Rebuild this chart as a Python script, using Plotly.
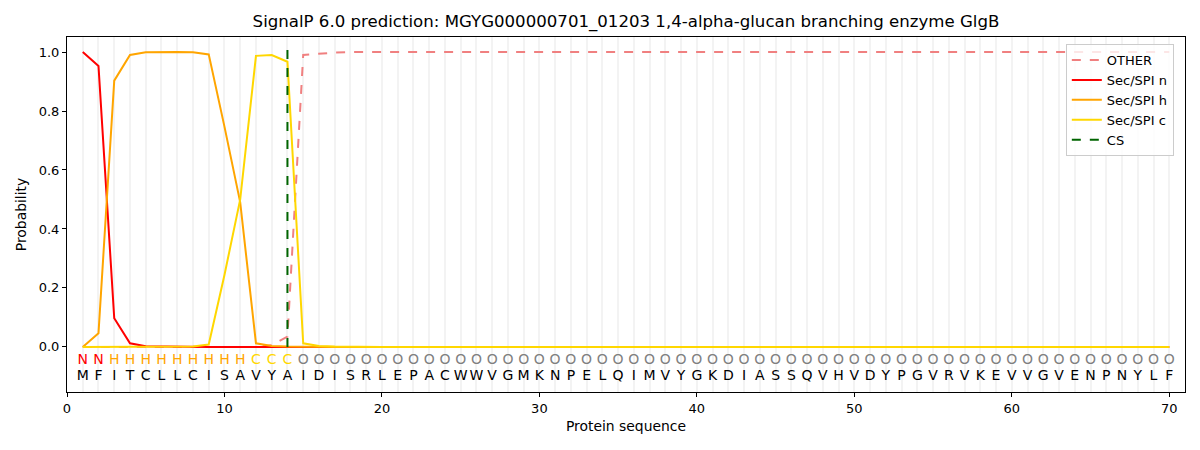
import plotly.graph_objects as go

SEQUENCE = list("MFITCLLCISAVYAIDISRLEPACWWVGMKNPELQIMVYGKDIASSQVHVDYPGVRVKEVVGVENPNYLF")
LABELS = list("NN" + "H" * 9 + "CCC" + "O" * 56)
POSITIONS = list(range(1, 71))

OTHER = [0.0, 0.0, 0.0, 0.0, 0.0, 0.0, 0.0, 0.0, 0.0, 0.0,
         0.0, 0.0, 0.006, 0.035, 0.99, 0.995, 0.998] + [1.0] * 53
SEC_N = [1.0, 0.953, 0.097, 0.012, 0.002, 0.001, 0.001, 0.0, 0.0, 0.0,
         0.0, 0.0, 0.0, 0.0, 0.0, 0.0, 0.0] + [0.0] * 53
SEC_H = [0.0, 0.046, 0.903, 0.99, 0.999, 1.0, 1.0, 0.999, 0.992, 0.747,
         0.49, 0.012, 0.003, 0.001, 0.0, 0.0, 0.0] + [0.0] * 53
SEC_C = [0.0, 0.0, 0.0, 0.0, 0.0, 0.0, 0.0, 0.001, 0.008, 0.244,
         0.5, 0.987, 0.99, 0.967, 0.012, 0.003, 0.001] + [0.0] * 53

CS_X = [14, 14]
CS_Y = [0.0, 1.035]

LABEL_COLORS = {"N": "red", "H": "orange", "C": "gold", "O": "gray"}

fig = go.Figure()

fig.add_trace(go.Scatter(x=POSITIONS, y=OTHER, mode="lines", name="OTHER",
                         line=dict(color="#F08080", width=2, dash="dash")))
fig.add_trace(go.Scatter(x=POSITIONS, y=SEC_N, mode="lines", name="Sec/SPI n",
                         line=dict(color="red", width=2)))
fig.add_trace(go.Scatter(x=POSITIONS, y=SEC_H, mode="lines", name="Sec/SPI h",
                         line=dict(color="orange", width=2)))
fig.add_trace(go.Scatter(x=POSITIONS, y=SEC_C, mode="lines", name="Sec/SPI c",
                         line=dict(color="gold", width=2)))
fig.add_trace(go.Scatter(x=CS_X, y=CS_Y, mode="lines", name="CS",
                         line=dict(color="darkgreen", width=2, dash="dash")))

# region letters and residues under the curves
fig.add_trace(go.Scatter(x=POSITIONS, y=[-0.047] * len(POSITIONS), mode="text",
                         text=LABELS, showlegend=False, hoverinfo="skip",
                         textfont=dict(size=14, color=[LABEL_COLORS[c] for c in LABELS])))
fig.add_trace(go.Scatter(x=POSITIONS, y=[-0.1] * len(POSITIONS), mode="text",
                         text=SEQUENCE, showlegend=False, hoverinfo="skip",
                         textfont=dict(size=14, color="black")))

# page body has an 8px margin, so the figure is shrunk by that much
fig.update_layout(
    width=1192, height=442,
    template="none",
    title=dict(text="SignalP 6.0 prediction: MGYG000000701_01203 1,4-alpha-glucan branching enzyme GlgB",
               x=0.5, xref="paper", xanchor="center", y=0.97, yanchor="middle",
               font=dict(size=16.6, color="black")),
    font=dict(family="DejaVu Sans", size=13, color="black"),
    margin=dict(l=59, r=15, t=29, b=58),
    plot_bgcolor="white", paper_bgcolor="white",
    legend=dict(x=0.99, y=0.98, xanchor="right", yanchor="top",
                bordercolor="#cccccc", borderwidth=1, bgcolor="rgba(255,255,255,0.8)",
                font=dict(size=13)),
)
fig.update_xaxes(range=[0, 71], tickvals=list(range(0, 71, 10)),
                 showline=True, linecolor="black", mirror=True, linewidth=1,
                 ticks="outside", ticklen=4, tickcolor="black",
                 showgrid=True, gridcolor="#f3f3f3", gridwidth=2,
                 minor=dict(dtick=1, tick0=0, showgrid=True, gridcolor="#f3f3f3", gridwidth=2),
                 zeroline=False, automargin=False,
                 title=dict(text="Protein sequence", standoff=6, font=dict(size=13.9)))
fig.update_yaxes(range=[-0.153, 1.051], tickvals=[0, 0.2, 0.4, 0.6, 0.8, 1.0],
                 ticktext=["0.0", "0.2", "0.4", "0.6", "0.8", "1.0"],
                 showline=True, linecolor="black", mirror=True, linewidth=1,
                 ticks="outside", ticklen=4, tickcolor="black",
                 showgrid=False, zeroline=False, automargin=False,
                 title=dict(text="Probability", standoff=8, font=dict(size=13.9)))

fig.write_html("out.html")
